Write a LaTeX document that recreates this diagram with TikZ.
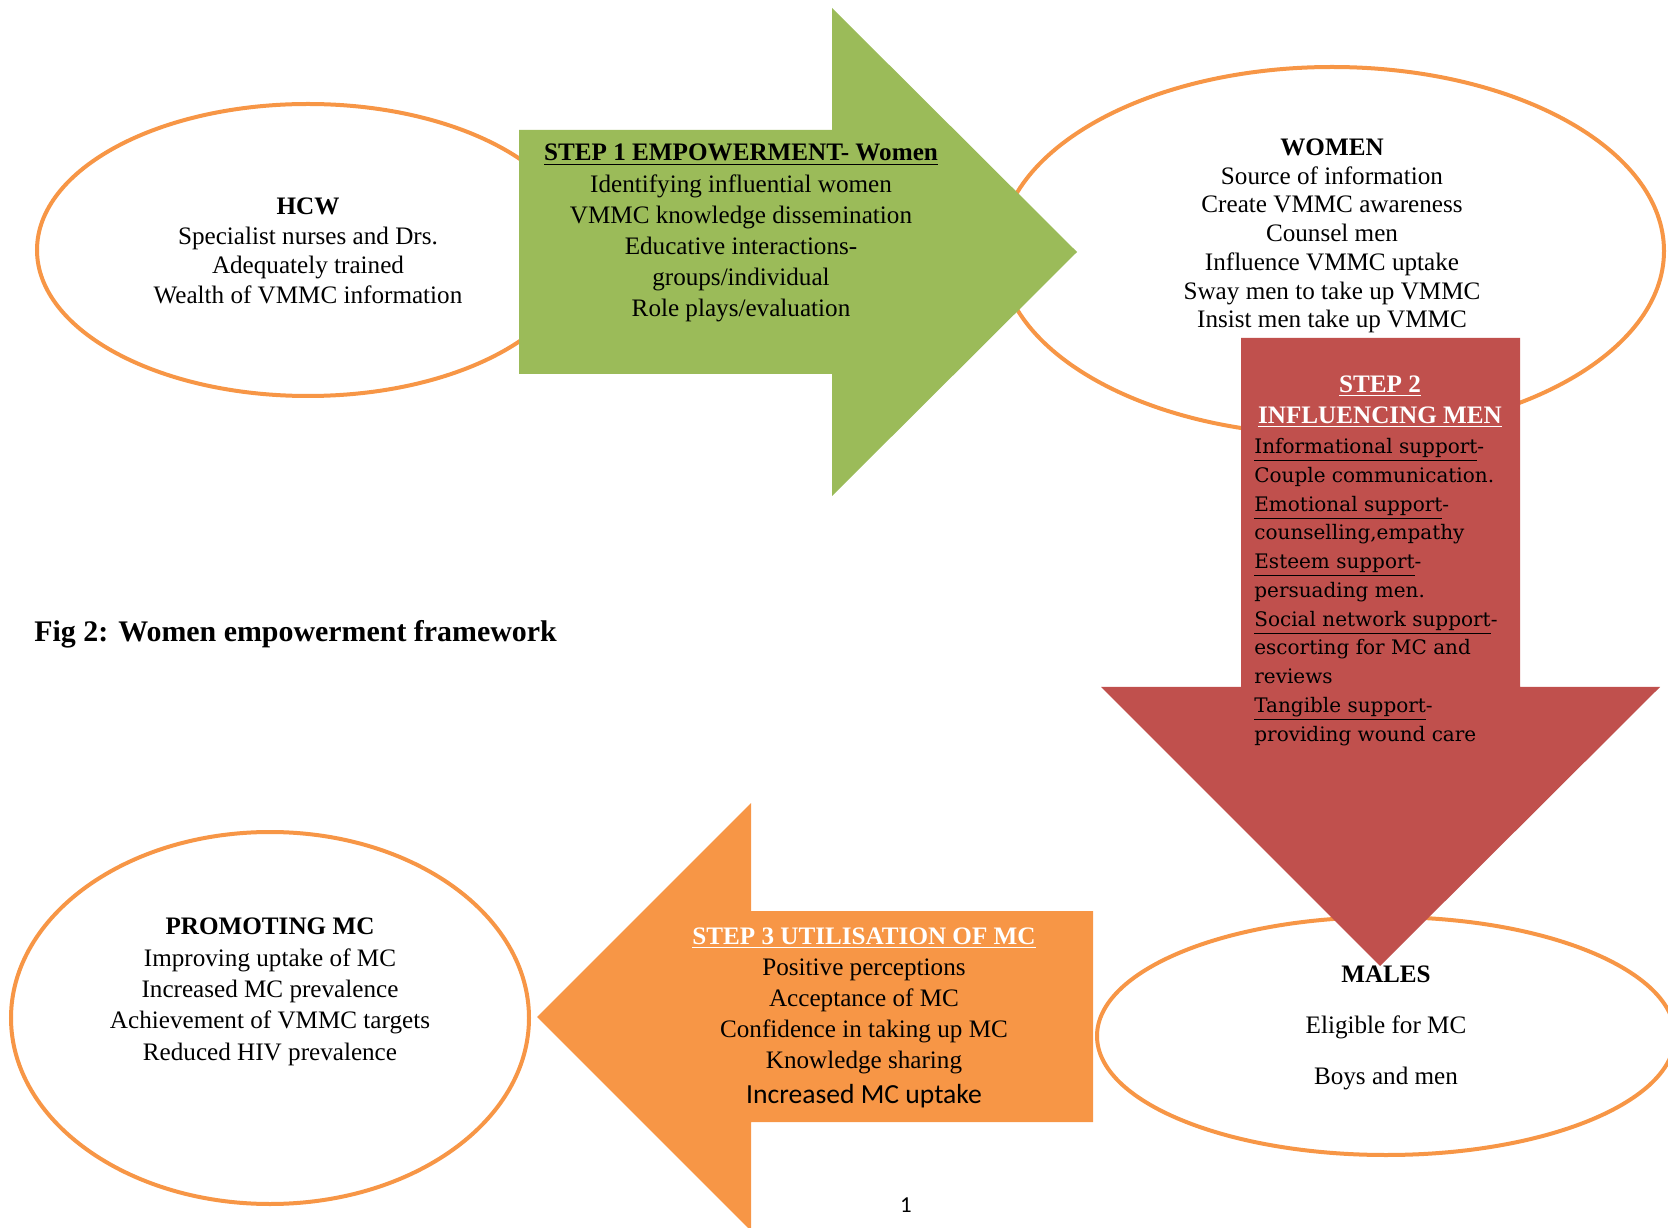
\documentclass[tikz,border=0pt]{standalone}
\usepackage{fontspec}
\setmainfont{Liberation Serif}
\newfontfamily\schoolfont{DejaVu Serif}
\newfontfamily\calfont{Carlito}
\usepackage{tikz}
\usetikzlibrary{calc}
\usetikzlibrary{shapes.geometric}
\definecolor{ovalline}{HTML}{F79646}
\definecolor{stepgreen}{HTML}{9BBB59}
\definecolor{stepred}{HTML}{C0504D}
\definecolor{steporange}{HTML}{F79646}
\newcommand{\px}{0.525pt}
\newcommand{\wul}[1]{\textcolor{white}{\textbf{\underline{#1}}}}

\begin{document}
\begin{tikzpicture}[x=0.525pt, y=-0.525pt,
    oval/.style={ellipse, draw=ovalline, line width=2.1pt, fill=white, inner sep=0pt},
    txt/.style={align=center, inner sep=0pt, font=\fontsize{13.2}{15.5}\selectfont},
    steptxt/.style={align=center, inner sep=0pt, font=\fontsize{13.2}{16.3}\selectfont}]
    \useasboundingbox (0,0) rectangle (1668,1228);
    \clip (0,0) rectangle (1668,1228);
    % ovals
    \node[oval, minimum width=542*\px, minimum height=292*\px] (hcw) at (308,250) {};
    \node[oval, minimum width=664*\px, minimum height=368*\px] (women) at (1332,251) {};
    \node[oval, minimum width=518*\px, minimum height=372*\px] (promo) at (270,1018) {};
    \node[oval, minimum width=578*\px, minimum height=238*\px] (males) at (1386,1036) {};
    % block arrows
    \fill[stepgreen] (519,130) -- (832,130) -- (832,8) -- (1077,252) -- (832,496) -- (832,374) -- (519,374) -- cycle;
    \fill[stepred] (1241,338) -- (1520,338) -- (1520,687) -- (1660,687) -- (1380,966) -- (1101,687) -- (1241,687) -- cycle;
    \fill[steporange] (1093,911) -- (751,911) -- (751,803) -- (537,1017) -- (751,1231) -- (751,1122) -- (1093,1122) -- cycle;
    % oval texts
    \node[txt] (hcwtxt) at ($(hcw.center)+(0,1)$) {\textbf{HCW}\\Specialist nurses and Drs.\\Adequately trained\\Wealth of VMMC information};
    \node[txt, font=\fontsize{13.2}{15.1}\selectfont] (womentxt) at ($(women.center)+(0,-15)$) {\textbf{WOMEN}\\Source of information\\Create VMMC awareness\\Counsel men\\Influence VMMC uptake\\Sway men to take up VMMC\\Insist men take up VMMC};
    \node[txt, font=\fontsize{13.2}{16.45}\selectfont] (promotxt) at ($(promo.center)+(0,-26)$) {\textbf{PROMOTING MC}\\Improving uptake of MC\\Increased MC prevalence\\Achievement of VMMC targets\\Reduced HIV prevalence};
    \node[txt, font=\fontsize{13.2}{26.8}\selectfont] (malestxt) at ($(males.center)+(0,-8)$) {\textbf{MALES}\\Eligible for MC\\Boys and men};
    % step texts
    \node[steptxt] (step1) at (741,233) {\textbf{\underline{STEP 1 EMPOWERMENT- Women}}\\Identifying influential women\\VMMC knowledge dissemination\\Educative interactions-\\groups/individual\\Role plays/evaluation};
    \node[steptxt] (step2head) at (1380,402) {\wul{STEP 2}\\\wul{INFLUENCING MEN}};
    \node[align=left, inner sep=0pt, anchor=north west, font=\schoolfont\fontsize{10.5}{15.1}\selectfont] (step2body) at (1254,438) {\underline{Informational support}-\\Couple communication.\\\underline{Emotional support}-\\counselling,empathy\\\underline{Esteem support}-\\persuading men.\\\underline{Social network support}-\\escorting for MC and\\reviews\\\underline{Tangible support}-\\providing wound care};
    \node[steptxt] (step3) at (864,1018) {\wul{STEP 3 UTILISATION OF MC}\\Positive perceptions\\Acceptance of MC\\Confidence in taking up MC\\Knowledge sharing\\[2pt]{\calfont\fontsize{14.5}{16}\selectfont Increased MC uptake}};
    % caption and page number
    \node[anchor=west, inner sep=0pt, font=\fontsize{15.7}{18}\selectfont\bfseries] (caption) at (34,634) {Fig 2: Women empowerment framework};
    \node[inner sep=0pt, font=\calfont\fontsize{12}{14}\selectfont] (pagenum) at (906,1205) {1};
\end{tikzpicture}
\end{document}
